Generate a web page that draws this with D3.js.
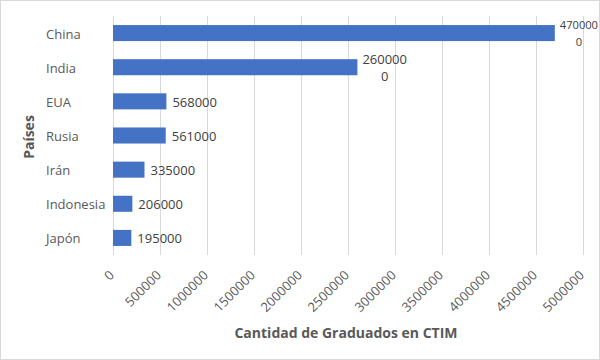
<!DOCTYPE html>
<html><head><meta charset="utf-8">
<script src="https://cdn.jsdelivr.net/npm/d3@7"></script>
<style>body{margin:0;background:#fff}svg{display:block}text{font-family:"Open Sans",sans-serif}</style>
</head><body><svg id="c" width="600" height="360"></svg>
<script>
const categories = ["China","India","EUA","Rusia","Irán","Indonesia","Japón"];
const values = [4700000,2600000,568000,561000,335000,206000,195000];
const xTicks = [0,500000,1000000,1500000,2000000,2500000,3000000,3500000,4000000,4500000,5000000];
const xTitle = "Cantidad de Graduados en CTIM";
const yTitle = "Países";

const svg = d3.select("#c");
svg.append("rect").attr("x",0.5).attr("y",0.5).attr("width",599).attr("height",359)
  .attr("fill","#fff").attr("stroke","#d9d9d9");

const m = {l:113, r:583, t:16, b:255};
const x = d3.scaleLinear().domain([0,5000000]).range([m.l,m.r]);
const y = d3.scaleBand().domain(categories).range([m.t,m.b]).paddingInner(0.53).paddingOuter(0.265);

// grid
svg.append("g").selectAll("line").data(xTicks).join("line")
  .attr("x1",d=>Math.round(x(d))+0.5).attr("x2",d=>Math.round(x(d))+0.5).attr("y1",m.t).attr("y2",m.b)
  .attr("stroke","#d9d9d9").attr("stroke-width",1);

// bars
svg.append("g").selectAll("rect").data(values).join("rect")
  .attr("x",x(0)).attr("y",(d,i)=>y(categories[i]))
  .attr("width",d=>x(d)-x(0)).attr("height",y.bandwidth())
  .attr("fill","#4472c4");

// category labels
svg.append("g").selectAll("text").data(categories).join("text")
  .attr("x",46).attr("y",d=>y(d)+y.bandwidth()/2+1).attr("dy","0.35em")
  .attr("font-size",13).attr("fill","#595959").text(d=>d);

// data labels
const lbl = svg.append("g");
values.forEach((v,i)=>{
  const s = String(v);
  const cy = y(categories[i])+y.bandwidth()/2;
  if (v >= 1000000) {
    const lines = [s.slice(0,-1), s.slice(-1)];
    const probe = lbl.append("text").attr("font-size",13).text(lines[0]);
    const w0 = probe.node().getComputedTextLength();
    probe.remove();
    const start = x(v)+5;
    const avail = 598 - start;
    const fs = Math.min(13, 13*avail/w0);
    const w = w0*fs/13;
    const cx = start + w/2;
    const t = lbl.append("text").attr("font-size",fs).attr("fill","#404040").attr("text-anchor","middle");
    lines.forEach((ln,k)=>{
      t.append("tspan").attr("x",cx).attr("y",cy-7.5+k*17).attr("dy","0.35em").text(ln);
    });
  } else {
    lbl.append("text").attr("x",x(v)+6).attr("y",cy+1).attr("dy","0.35em")
      .attr("font-size",13).attr("fill","#404040").text(s);
  }
});

// x tick labels
svg.append("g").selectAll("text").data(xTicks).join("text")
  .attr("transform",d=>`translate(${x(d)+2},${m.b+21}) rotate(-45)`)
  .attr("text-anchor","end")
  .attr("font-size",13).attr("fill","#595959").text(d=>String(d));

// titles
svg.append("text").attr("x",346).attr("y",338).attr("text-anchor","middle")
  .attr("font-size",14).attr("font-weight","bold").attr("fill","#595959").text(xTitle);
svg.append("text").attr("transform","translate(34,137) rotate(-90)").attr("text-anchor","middle")
  .attr("font-size",14).attr("font-weight","bold").attr("fill","#595959").text(yTitle);
</script></body></html>
